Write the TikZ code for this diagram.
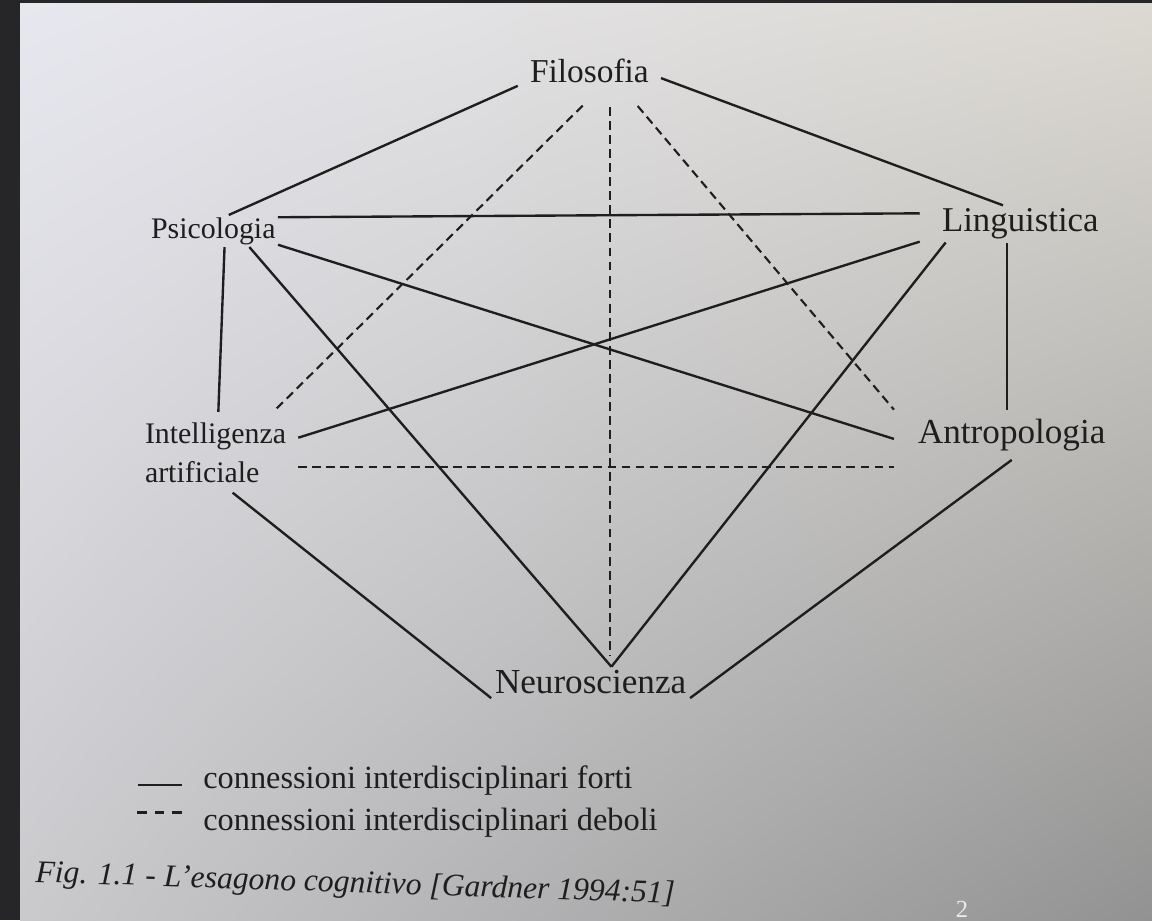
\documentclass[tikz,border=0pt]{standalone}
\usepackage{fontspec}
\setmainfont{Liberation Serif}
\usetikzlibrary{calc,shadings}
\definecolor{ink}{RGB}{30,30,30}
\definecolor{photoedge}{RGB}{38,38,41}
\definecolor{pgtl}{RGB}{231,231,239}
\definecolor{pgtr}{RGB}{220,217,210}
\definecolor{pgbl}{RGB}{202,202,205}
\definecolor{pgbr}{RGB}{146,146,146}
\definecolor{pnum}{RGB}{235,235,235}
\begin{document}
\begin{tikzpicture}[x=0.02cm,y=-0.02cm,
  strong/.style={ink,line width=1.35pt},
  weak/.style={ink,line width=1.2pt,dash pattern=on 5pt off 3pt},
  disc/.style={text=ink,font=\fontsize{#1}{22.2}\selectfont,inner sep=1.2pt},
  note/.style={text=ink,font=\fontsize{18.4}{22}\selectfont,inner sep=0pt,anchor=base west}]
\useasboundingbox (0,0) rectangle (1152,920);
\fill[photoedge] (0,0) rectangle (1152,920);
\shade[upper left=pgtl,upper right=pgtr,lower left=pgbl,lower right=pgbr] (20,3) rectangle (1152,920);
% the six disciplines
\node[disc=19,inner xsep=6.8pt,inner ysep=1.7pt] (fil) at (589.4,70.6) {Filosofia};
\node[disc=17] (psi) at (213.3,231) {Psicologia};
\node[disc=19.8,inner xsep=12.5pt,inner ysep=1.7pt] (ling) at (1020.3,223.9) {Linguistica};
\node[disc=17,align=left,inner xsep=6.8pt,inner ysep=5.7pt] (intel) at (215.5,452.3) {Intelligenza\\artificiale};
\node[disc=20,inner xsep=13.5pt,inner ysep=5pt] (antr) at (1011.7,434.8) {Antropologia};
\node[disc=20,inner sep=2pt] (neuro) at (590.6,682.4) {Neuroscienza};
% strong connections
\draw[strong] (fil.south west) -- (psi.46);
\draw[strong] (fil.-6) -- (ling.133);
\draw[strong] (psi.12) -- (ling.174);
\draw[strong] (psi.-55) -- (intel.86);
\draw[strong] (psi.-12) -- (antr.182);
\draw[strong] (psi.-24) -- (neuro.37);
\draw[strong] (ling.190) -- (intel.10);
\draw[strong] (ling.194) -- (neuro.37);
\draw[strong] (ling.234) -- (ling.234 |- antr.north);
\draw[strong] (intel.-67) -- (neuro.south west);
\draw[strong] (antr.south) -- (neuro.south east);
% weak connections
\draw[weak,shorten <=16pt] (fil.-49) -- (intel.35);
\draw[weak,shorten <=12pt,shorten >=6pt] (fil.-36) -- (fil.-36 |- neuro.north);
\draw[weak,shorten <=15pt] (fil.-26) -- (antr.north west);
\draw[weak] (intel.-10) -- (intel.-10 -| antr.west);
% legend and caption
\node[note] (lforti) at (203,788) {connessioni interdisciplinari forti};
\node[note] (ldeboli) at (203,830) {connessioni interdisciplinari deboli};
\draw[strong] ($(lforti.base west)+(-65,-3)$) -- ++(44,0);
\draw[strong,line width=1.7pt,dash pattern=on 5.5pt off 4.5pt] ($(ldeboli.base west)+(-66,-18)$) -- ++(46,0);
\node[text=ink,font=\fontsize{18}{22}\selectfont\itshape,anchor=base west,inner sep=0pt,rotate=-1.9] (cap) at (35,882) {Fig. 1.1 - L’esagono cognitivo [Gardner 1994:51]};
\node[text=pnum,font=\fontsize{14}{14}\selectfont,anchor=base,inner sep=0pt] (slide) at (962,917) {2};
\end{tikzpicture}
\end{document}
